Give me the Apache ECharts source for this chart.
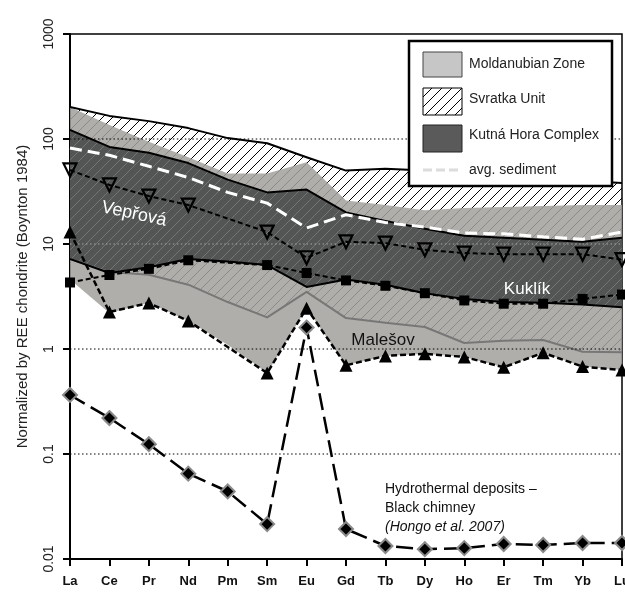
<!DOCTYPE html>
<html><head><meta charset="utf-8">
<script src="https://cdn.jsdelivr.net/npm/echarts@6/dist/echarts.min.js"></script>
<style>html,body{margin:0;padding:0;background:#fff}#c{width:625px;height:593px}</style>
</head><body><div id="c"></div>
<script>
// ---------- data ----------
const categories = ['La','Ce','Pr','Nd','Pm','Sm','Eu','Gd','Tb','Dy','Ho','Er','Tm','Yb','Lu'];
const yTickLabels = ['0.01','0.1','1','10','100','1000'];
const gridValues = [0.1, 1, 10, 100];

const svratkaTop    = [202,166,148,127,102,91,67,50,52,50,47,45,43,40,38];
const svratkaBottom = [7.2,5.4,5.1,4.1,2.8,2.0,3.5,1.97,1.78,1.62,1.14,1.2,1.22,0.94,0.93];
const moldanubianTop    = [202,136,94,67,47,47,60,26,23.5,21,22,22.5,23,23.5,23.5];
const moldanubianBottom = [4.6,2.2,2.75,1.85,1.1,0.59,2.45,0.7,0.86,0.9,0.84,0.67,0.92,0.68,0.63];
const kutnaTop    = [122,84,74,59,41,31,33,20,16.6,14,12,11.5,11,10.5,11.5];
const kutnaBottom = [7.2,5.3,6.0,7.2,6.8,6.3,3.9,4.6,4.1,3.4,3.0,2.8,2.75,2.65,2.5];

const avgSediment = [82,70,55,43,31,24.5,14.2,19,16,14.5,12.7,12.5,11.7,11.1,13];
const veprova = [50.7,36.5,28.6,23.5,null,13,7.4,10.5,10.2,8.8,8.2,8.0,8.0,8.0,7.1];
const kuklik  = [4.3,5.07,5.8,7.0,null,6.3,5.3,4.5,4.0,3.4,2.9,2.7,2.7,3.0,3.3];
const malesov = [13,2.25,2.74,1.85,null,0.59,2.45,0.70,0.86,0.90,0.84,0.67,0.92,0.68,0.63];
const hydrothermal = [0.365,0.22,0.124,0.065,0.044,0.0215,1.6,0.0193,0.0133,0.0124,0.0127,0.0139,0.0136,0.0142,0.0142];

// ---------- helpers ----------
const FONT = "'Liberation Sans', Arial, sans-serif";
function hatch(bg, line, size, lw) {
  const c = document.createElement('canvas');
  c.width = size; c.height = size;
  const g = c.getContext('2d');
  if (bg) { g.fillStyle = bg; g.fillRect(0, 0, size, size); }
  g.strokeStyle = line; g.lineWidth = lw;
  g.beginPath();
  g.moveTo(-1, size + 1); g.lineTo(size + 1, -1);
  g.moveTo(-1, 1); g.lineTo(1, -1);
  g.moveTo(size - 1, size + 1); g.lineTo(size + 1, size - 1);
  g.stroke();
  return c;
}
const svratkaPattern = { image: hatch(null, '#000', 10, 1), repeat: 'repeat' };
const kutnaPattern = { image: hatch('#525553', '#737674', 10, 1), repeat: 'repeat' };
const legendHatch = { image: hatch('#fff', '#000', 10, 1), repeat: 'repeat' };

function pts(api, arr) { return arr.map((v, i) => api.coord([i, v])); }
function band(top, bottom, fill, z) {
  return {
    type: 'custom', z: z, silent: true, clip: true,
    data: [[0, 1]],
    renderItem: function (params, api) {
      const p = pts(api, top).concat(pts(api, bottom).reverse());
      return { type: 'polygon', shape: { points: p }, style: { fill: fill, stroke: 'none' } };
    }
  };
}
function outline(arr, color, width) {
  return function (api) {
    return { type: 'polyline', shape: { points: pts(api, arr) }, style: { fill: 'none', stroke: color, lineWidth: width, lineJoin: 'round' } };
  };
}
function inDark(i, g) { return kutnaBottom[i] < g && g < kutnaTop[i]; }

const chart = echarts.init(document.getElementById('c'), null, { renderer: 'canvas' });
chart.setOption({
  animation: false,
  backgroundColor: '#ffffff',
  grid: { left: 70, right: 3, top: 34, bottom: 34, show: true, borderColor: '#000', borderWidth: 1.5, backgroundColor: 'transparent', outerBoundsMode: 'none' },
  xAxis: {
    type: 'category', data: categories, boundaryGap: false,
    axisLine: { lineStyle: { color: '#000', width: 2 } },
    axisTick: { show: true, length: 7, lineStyle: { color: '#000', width: 2 } },
    axisLabel: { color: '#111', fontWeight: 'bold', fontSize: 13, fontFamily: FONT, margin: 16, interval: 0 },
    splitLine: { show: false }
  },
  yAxis: {
    type: 'log', logBase: 10, min: 0.01, max: 1000,
    name: 'Normalized by REE chondrite (Boynton 1984)', nameLocation: 'middle', nameGap: 40,
    nameTextStyle: { fontSize: 15, color: '#222', fontFamily: FONT },
    axisLine: { show: true, lineStyle: { color: '#000', width: 2 } },
    axisTick: { show: true, length: 7, lineStyle: { color: '#000', width: 2 } },
    axisLabel: { rotate: 90, fontSize: 14, color: '#222', fontFamily: FONT, margin: 14,
      formatter: function (v) { return yTickLabels[Math.round(Math.log10(v)) + 2]; } },
    splitLine: { show: false }, minorTick: { show: false }
  },
  series: [
    band(svratkaTop, svratkaBottom, svratkaPattern, 2),
    band(moldanubianTop, moldanubianBottom, 'rgba(163,161,156,0.86)', 3),
    band(kutnaTop, kutnaBottom, kutnaPattern, 4),
    {
      type: 'custom', z: 5, silent: true, clip: true, data: [[0, 1]],
      renderItem: function (params, api) {
        return { type: 'group', children: [
          outline(svratkaBottom, '#777', 2)(api),
          outline(svratkaTop, '#000', 2)(api),
          outline(kutnaTop, '#000', 2)(api),
          outline(kutnaBottom, '#000', 2)(api)
        ] };
      }
    },
    {
      type: 'custom', z: 6, silent: true, clip: true, data: [[0, 1]],
      renderItem: function (params, api) {
        const kids = [];
        gridValues.forEach(function (g) {
          for (let i = 0; i < categories.length - 1; i++) {
            const a = api.coord([i, g]), b = api.coord([i + 1, g]);
            const light = inDark(i, g) && inDark(i + 1, g);
            kids.push({ type: 'line', shape: { x1: a[0], y1: a[1], x2: b[0], y2: b[1] },
              style: { stroke: light ? '#a4a6a4' : '#000', lineWidth: 1, lineDash: [1.5, 2.5] } });
          }
        });
        return { type: 'group', children: kids };
      }
    },
    { name: 'avg. sediment', type: 'line', z: 7, data: avgSediment, symbol: 'none', silent: true,
      lineStyle: { color: '#fff', width: 3, type: [12, 6] } },
    { name: 'Vepřová', type: 'line', z: 8, data: veprova, connectNulls: true, silent: true,
      symbol: 'triangle', symbolRotate: 180, symbolSize: 13, showAllSymbol: true,
      itemStyle: { color: 'rgba(0,0,0,0)', borderColor: '#000', borderWidth: 2.2 },
      lineStyle: { color: '#000', width: 2, type: [5, 3] } },
    { name: 'Kuklík', type: 'line', z: 9, data: kuklik, connectNulls: true, silent: true,
      symbol: 'rect', symbolSize: 10, showAllSymbol: true,
      itemStyle: { color: '#000' },
      lineStyle: { color: '#000', width: 2, type: [5, 3] } },
    { name: 'Malešov', type: 'line', z: 10, data: malesov, connectNulls: true, silent: true,
      symbol: 'triangle', symbolSize: 13, showAllSymbol: true,
      itemStyle: { color: '#000' },
      lineStyle: { color: '#000', width: 2.5, type: [6, 3] } },
    { name: 'Hydrothermal deposits', type: 'line', z: 11, data: hydrothermal, silent: true,
      symbol: 'diamond', symbolSize: 14, showAllSymbol: true,
      itemStyle: { color: '#000', borderColor: '#8a8a8a', borderWidth: 2 },
      lineStyle: { color: '#000', width: 2.5, type: [17, 7] } }
  ],
  graphic: [
    { type: 'text', z: 100, x: 134, y: 214, rotation: -0.21,
      style: { text: 'Vepřová', fill: '#fff', font: '18px ' + FONT, textAlign: 'center', textVerticalAlign: 'middle' } },
    { type: 'text', z: 100, x: 527, y: 289,
      style: { text: 'Kuklík', fill: '#fff', font: '17px ' + FONT, textAlign: 'center', textVerticalAlign: 'middle' } },
    { type: 'text', z: 100, x: 383, y: 340,
      style: { text: 'Malešov', fill: '#111', font: '17px ' + FONT, textAlign: 'center', textVerticalAlign: 'middle' } },
    { type: 'text', z: 100, x: 385, y: 489,
      style: { text: 'Hydrothermal deposits –', fill: '#111', font: '14px ' + FONT, textAlign: 'left', textVerticalAlign: 'middle' } },
    { type: 'text', z: 100, x: 385, y: 508,
      style: { text: 'Black chimney', fill: '#111', font: '14px ' + FONT, textAlign: 'left', textVerticalAlign: 'middle' } },
    { type: 'text', z: 100, x: 385, y: 527,
      style: { text: '(Hongo et al. 2007)', fill: '#111', font: 'italic 14px ' + FONT, textAlign: 'left', textVerticalAlign: 'middle' } },
    // legend
    { type: 'rect', z: 100, shape: { x: 409, y: 41, width: 203, height: 145 },
      style: { fill: '#fff', stroke: '#000', lineWidth: 2.5 } },
    { type: 'rect', z: 101, shape: { x: 423, y: 52, width: 39, height: 25 },
      style: { fill: '#c6c6c6', stroke: '#444', lineWidth: 1 } },
    { type: 'rect', z: 101, shape: { x: 423, y: 88, width: 39, height: 27 },
      style: { fill: legendHatch, stroke: '#000', lineWidth: 1 } },
    { type: 'rect', z: 101, shape: { x: 423, y: 125, width: 39, height: 27 },
      style: { fill: '#5a5a5a', stroke: '#222', lineWidth: 1 } },
    { type: 'line', z: 101, shape: { x1: 423, y1: 170, x2: 462, y2: 170 },
      style: { stroke: '#dcdcdc', lineWidth: 3, lineDash: [9, 4] } },
    { type: 'text', z: 101, x: 469, y: 64, style: { text: 'Moldanubian Zone', fill: '#222', font: '14px ' + FONT, textVerticalAlign: 'middle' } },
    { type: 'text', z: 101, x: 469, y: 99, style: { text: 'Svratka Unit', fill: '#222', font: '14px ' + FONT, textVerticalAlign: 'middle' } },
    { type: 'text', z: 101, x: 469, y: 135, style: { text: 'Kutná Hora Complex', fill: '#222', font: '14px ' + FONT, textVerticalAlign: 'middle' } },
    { type: 'text', z: 101, x: 469, y: 170, style: { text: 'avg. sediment', fill: '#222', font: '14px ' + FONT, textVerticalAlign: 'middle' } }
  ]
});
</script></body></html>
